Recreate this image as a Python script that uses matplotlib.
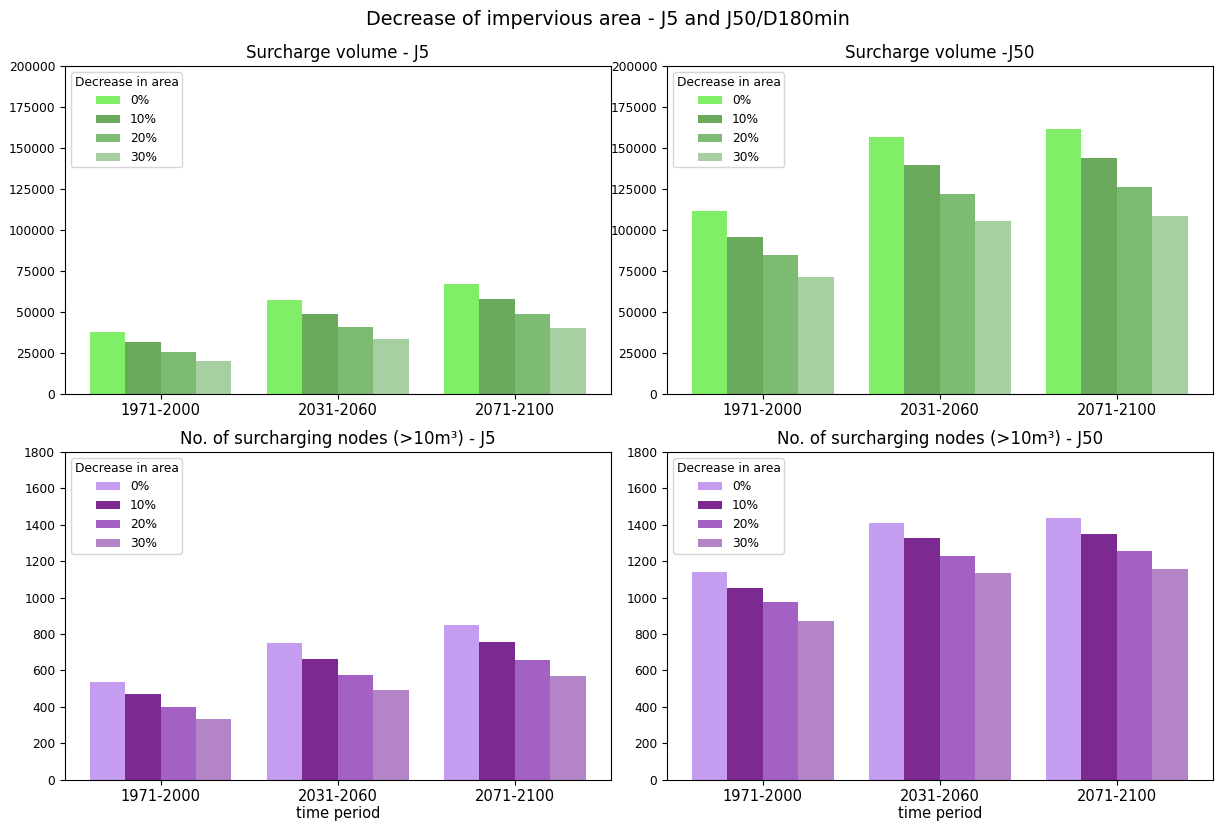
import numpy as np
import matplotlib
matplotlib.use("Agg")
import matplotlib.pyplot as plt

periods = ["1971-2000", "2031-2060", "2071-2100"]
decrease_labels = ["0%", "10%", "20%", "30%"]

# Surcharge volume per period, one list per decrease in impervious area
volume_j5 = {
    "0%": [37800, 57400, 67100],
    "10%": [31300, 48400, 57800],
    "20%": [25400, 40500, 48400],
    "30%": [20100, 33200, 40100],
}
volume_j50 = {
    "0%": [111300, 156400, 161300],
    "10%": [95800, 139300, 143600],
    "20%": [84400, 122000, 125900],
    "30%": [71000, 105400, 108600],
}

# Number of surcharging nodes (>10 m³)
nodes_j5 = {
    "0%": [537, 751, 848],
    "10%": [471, 663, 757],
    "20%": [401, 577, 660],
    "30%": [335, 491, 572],
}
nodes_j50 = {
    "0%": [1142, 1410, 1439],
    "10%": [1052, 1327, 1351],
    "20%": [977, 1230, 1254],
    "30%": [871, 1138, 1158],
}

green_colors = ["#80ee66", "#6aa85c", "#7dba72", "#a6cfa2"]
purple_colors = ["#c49cf0", "#7c2a90", "#a461c4", "#b385c6"]

fig = plt.figure(figsize=(12.15, 8.25), dpi=100)
fig.suptitle("Decrease of impervious area - J5 and J50/D180min", fontsize=13.8, y=0.988)

axes_boxes = [
    [0.0535, 0.523, 0.449, 0.397],
    [0.549, 0.523, 0.449, 0.397],
    [0.0535, 0.055, 0.449, 0.397],
    [0.549, 0.055, 0.449, 0.397],
]

panels = [
    ("Surcharge volume - J5", volume_j5, green_colors, 200000, 25000, False),
    ("Surcharge volume -J50", volume_j50, green_colors, 200000, 25000, False),
    ("No. of surcharging nodes (>10m³) - J5", nodes_j5, purple_colors, 1800, 200, True),
    ("No. of surcharging nodes (>10m³) - J50", nodes_j50, purple_colors, 1800, 200, True),
]

x = np.arange(len(periods))
width = 0.2

for box, (title, data, colors, ymax, ystep, bottom_row) in zip(axes_boxes, panels):
    ax = fig.add_axes(box)
    for i, lab in enumerate(decrease_labels):
        ax.bar(x + (i - 1.5) * width, data[lab], width, color=colors[i], label=lab)
    ax.set_xticks(x)
    ax.set_xticklabels(periods, fontsize=10.5)
    ax.set_yticks(np.arange(0, ymax + 1, ystep))
    ax.set_ylim(0, ymax)
    ax.tick_params(axis="y", labelsize=8.8)
    ax.set_title(title, fontsize=12, pad=6)
    if bottom_row:
        ax.set_xlabel("time period", fontsize=10.5, labelpad=1)
    ax.legend(title="Decrease in area", loc="upper left", fontsize=8.8,
              title_fontsize=8.8, labelspacing=0.48, borderpad=0.28,
              handleheight=0.6)

fig.savefig("out.png", dpi=100)
